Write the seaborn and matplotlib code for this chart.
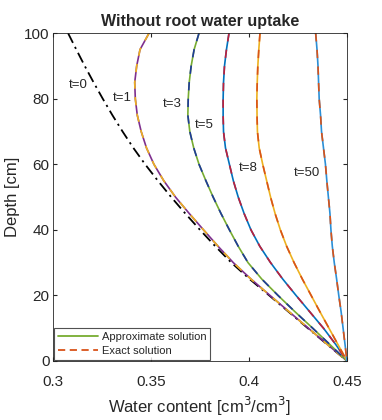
import matplotlib
matplotlib.use("Agg")
import matplotlib.pyplot as plt
import seaborn as sns
import pandas as pd

# depth grid [cm] (same for every profile)
depth = [100, 95, 90, 85, 80, 75, 70, 65, 60, 55, 50, 45, 40, 35, 30, 25, 20, 15, 10, 5, 0]

# water content profiles
theta_t0 = [0.3077, 0.3119, 0.3162, 0.3207, 0.3254, 0.3303, 0.3355, 0.3410, 0.3470, 0.3535, 0.3603,
            0.3675, 0.3750, 0.3828, 0.3910, 0.4003, 0.4103, 0.4202, 0.4300, 0.4400, 0.45]
theta_t1 = [0.3490, 0.3444, 0.3427, 0.3417, 0.3420, 0.3430, 0.3450, 0.3477, 0.3515, 0.3565, 0.3625,
            0.3695, 0.3768, 0.3842, 0.3920, 0.4010, 0.4107, 0.4205, 0.4303, 0.4401, 0.45]
theta_t3 = [0.3745, 0.3720, 0.3705, 0.3695, 0.3690, 0.3688, 0.3698, 0.3718, 0.3745, 0.3780, 0.3817,
            0.3857, 0.3900, 0.3945, 0.3995, 0.4065, 0.4148, 0.4235, 0.4325, 0.4413, 0.45]
theta_t5 = [0.3898, 0.3885, 0.3875, 0.3870, 0.3868, 0.3868, 0.3870, 0.3880, 0.3900, 0.3920, 0.3945,
            0.3975, 0.4010, 0.4055, 0.4110, 0.4172, 0.4240, 0.4310, 0.4380, 0.4443, 0.45]
theta_t8 = [0.4056, 0.4050, 0.4045, 0.4042, 0.4040, 0.4041, 0.4043, 0.4052, 0.4070, 0.4090, 0.4110,
            0.4133, 0.4160, 0.4192, 0.4230, 0.4272, 0.4317, 0.4362, 0.4408, 0.4454, 0.45]
theta_t50 = [0.4340, 0.4347, 0.4352, 0.4355, 0.4358, 0.4365, 0.4370, 0.4380, 0.4390, 0.4397, 0.4405,
             0.4413, 0.4418, 0.4425, 0.4435, 0.4447, 0.4458, 0.4470, 0.4480, 0.4490, 0.45]

times = ["t=1", "t=3", "t=5", "t=8", "t=50"]
profiles = [theta_t1, theta_t3, theta_t5, theta_t8, theta_t50]
approx_colors = ["#7E2F8E", "#77AC30", "#0072BD", "#EDB120", "#2B8FD6"]
exact_colors = ["#EDB120", "#1F3B99", "#C0203A", "#D95319", "#D95319"]

# label text and where it sits (water content, depth)
label_text = ["t=0", "t=1", "t=3", "t=5", "t=8", "t=50"]
label_x = [0.3128, 0.3352, 0.3607, 0.377, 0.3995, 0.4296]
label_y = [84.1, 80.2, 78.4, 72.0, 58.8, 57.3]

sns.set_style("ticks")
plt.rcParams["font.family"] = ["Liberation Sans Narrow", "Liberation Sans", "DejaVu Sans"]

fig = plt.figure(figsize=(3.82, 4.2), dpi=100)
ax = fig.add_axes([0.1387, 0.1405, 0.7697, 0.7805])

df0 = pd.DataFrame({"theta": theta_t0, "depth": depth})
sns.lineplot(data=df0, x="theta", y="depth", sort=False, estimator=None,
             color="black", linestyle=(0, (6, 2.5, 1.2, 2.5)), lw=1.3, ax=ax)

for name, prof, ca, ce in zip(times, profiles, approx_colors, exact_colors):
    df = pd.DataFrame({"theta": prof, "depth": depth})
    sns.lineplot(data=df, x="theta", y="depth", sort=False, estimator=None,
                 color=ca, lw=1.2, ax=ax)
    sns.lineplot(data=df, x="theta", y="depth", sort=False, estimator=None,
                 color=ce, lw=1.2, linestyle=(0, (5, 5)), ax=ax)

for txt, lx, ly in zip(label_text, label_x, label_y):
    ax.text(lx, ly, txt, fontsize=9.5, ha="center", va="center")

# legend handles
h1, = ax.plot([], [], color="#77AC30", lw=1.3, label="Approximate solution")
h2, = ax.plot([], [], color="#D95319", lw=1.3, linestyle=(0, (4, 2.5)), label="Exact solution")
leg = ax.legend(handles=[h1, h2], loc="lower left", fontsize=8, frameon=True,
                fancybox=False, edgecolor="#262626", handlelength=3.6,
                handletextpad=0.35, borderaxespad=0.1, borderpad=0.35,
                labelspacing=0.35)
leg.get_frame().set_linewidth(0.8)

ax.set_xlim(0.3, 0.45)
ax.set_ylim(0, 100)
ax.set_xticks([0.3, 0.35, 0.4, 0.45])
ax.set_xticklabels(["0.3", "0.35", "0.4", "0.45"])
ax.set_yticks([0, 20, 40, 60, 80, 100])
ax.tick_params(direction="in", top=True, right=True, labelsize=11,
               length=3, color="#262626")
ax.tick_params(axis="x", pad=10)
ax.tick_params(axis="y", pad=2.5)
for s in ax.spines.values():
    s.set_visible(True)
    s.set_color("#262626")
    s.set_linewidth(0.6)

ax.set_xlabel("Water content [cm$^3$/cm$^3$]", fontsize=12, labelpad=4)
ax.set_ylabel("Depth [cm]", fontsize=12, labelpad=3)
ax.set_title("Without root water uptake", fontsize=11.5, fontweight="bold", pad=5)

fig.savefig("out.png", dpi=100)
